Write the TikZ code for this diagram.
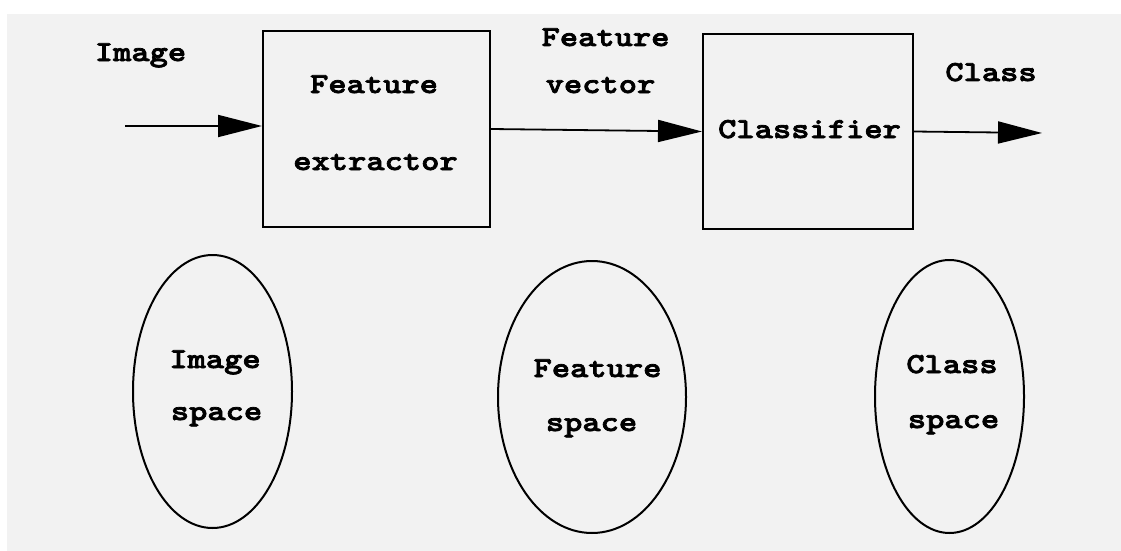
\documentclass[tikz,border=0pt]{standalone}
\usepackage{fontspec}
\newfontfamily\courb{lmmonolt10-bold.otf}[FakeStretch=1.2,FakeBold=2.5]
\usetikzlibrary{arrows.meta,shapes.geometric}
\definecolor{bgfill}{HTML}{F2F2F2}
\begin{document}
\begin{tikzpicture}[x=1pt,y=-1pt,
  lbl/.style={font=\courb\fontsize{29}{29}\selectfont, inner sep=0pt, anchor=base},
  blockbox/.style={draw, line width=2pt, inner sep=0pt, rectangle},
  spaceell/.style={draw, line width=2pt, inner sep=0pt, ellipse},
  flow/.style={line width=1.8pt, -{Triangle[length=44pt,width=22pt]}}]
\useasboundingbox (0,0) rectangle (1121,551);
\fill[bgfill] (7,14) rectangle (1121,551);
% blocks
\node[blockbox, minimum width=227pt, minimum height=196pt] (fe) at (376.5,129) {};
\node[blockbox, minimum width=210pt, minimum height=195pt] (cl) at (808,131.5) {};
% spaces
\node[spaceell, minimum width=159pt, minimum height=273pt] (is) at (212.5,391.5) {};
\node[spaceell, minimum width=188pt, minimum height=272pt] (fs) at (592,397) {};
\node[spaceell, minimum width=149pt, minimum height=273pt] (cs) at (949.5,396.5) {};
% connectors
\coordinate (in) at (125,126);
\coordinate (out) at (1042,133);
\draw[flow] (in) -- (in -| fe.west);
\draw[flow] (fe.east) -- (cl.west);
\draw[flow] (cl.east) -- (out);
% labels
\node[lbl] (limg) at (140.5,61) {Image};
\node[lbl] (lfv1) at (605.5,46) {Feature};
\node[lbl] (lfv2) at (600.5,93) {vector};
\node[lbl] (lcls) at (991,81) {Class};
\node[lbl] (tfe1) at (374,93) {Feature};
\node[lbl] (tfe2) at (375.5,170) {extractor};
\node[lbl] (tcl) at (809.5,138) {Classifier};
\node[lbl] (tis1) at (215,368) {Image};
\node[lbl] (tis2) at (216.5,420) {space};
\node[lbl] (tfs1) at (597.5,377) {Feature};
\node[lbl] (tfs2) at (591.5,431) {space};
\node[lbl] (tcs1) at (952,373) {Class};
\node[lbl] (tcs2) at (953.5,428) {space};
\end{tikzpicture}
\end{document}
